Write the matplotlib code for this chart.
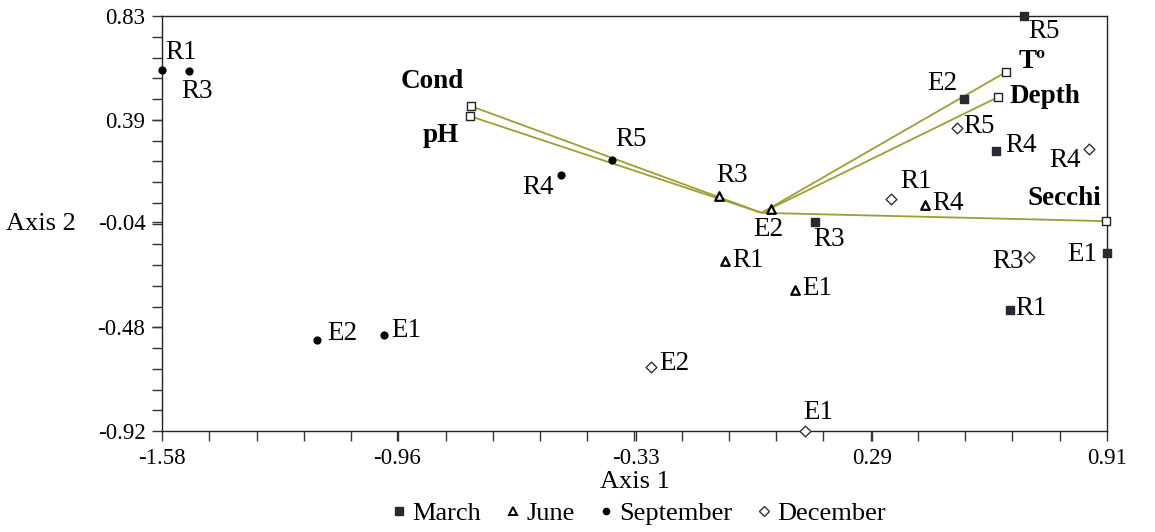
import matplotlib
matplotlib.use("Agg")
import matplotlib.pyplot as plt
from matplotlib.lines import Line2D
from matplotlib.ticker import FixedLocator

plt.rcParams['font.family'] = ['Liberation Serif', 'DejaVu Serif']

# ---- data ----
march_labels = ["R5", "E2", "R4", "R3", "E1", "R1"]
march_x = [0.691, 0.533, 0.618, 0.141, 0.910, 0.654]
march_y = [0.830, 0.480, 0.261, -0.039, -0.169, -0.410]

june_labels = ["R3", "E2", "R1", "E1", "R4"]
june_x = [-0.112, 0.025, -0.097, 0.088, 0.430]
june_y = [0.071, 0.016, -0.203, -0.325, 0.033]

sept_labels = ["R1", "R3", "R4", "R5", "E2", "E1"]
sept_x = [-1.580, -1.509, -0.529, -0.394, -1.172, -0.995]
sept_y = [0.602, 0.598, 0.160, 0.223, -0.536, -0.515]

dec_labels = ["R5", "R4", "R1", "R3", "E2", "E1"]
dec_x = [0.515, 0.862, 0.341, 0.704, -0.292, 0.114]
dec_y = [0.358, 0.269, 0.058, -0.186, -0.650, -0.920]

vec_labels = ["Cond", "pH", "Tº", "Depth", "Secchi"]
vec_x = [-0.766, -0.769, 0.644, 0.623, 0.907]
vec_y = [0.450, 0.408, 0.594, 0.488, -0.035]

x_ticks = [-1.58, -0.96, -0.33, 0.29, 0.91]
y_ticks = [0.83, 0.39, -0.04, -0.48, -0.92]

# ---- label layout (pixel offsets, ha, va) ----
march_off = [(4, -3, 'left', 'top'), (-6, 3, 'right', 'bottom'), (9, 5, 'left', 'center'),
             (-2, -5, 'left', 'top'), (-10, -2, 'right', 'center'), (5, 2, 'left', 'center')]
june_off = [(13, 21, 'center', 'center'), (-3, -20, 'center', 'center'), (7, 0, 'left', 'center'),
            (7, 1, 'left', 'center'), (7, 2, 'left', 'center')]
sept_off = [(3, 18, 'left', 'center'), (8, -20, 'center', 'center'), (-7, -13, 'right', 'center'),
            (3, 20, 'left', 'center'), (10, 6, 'left', 'center'), (7, 4, 'left', 'center')]
dec_off = [(6, 1, 'left', 'center'), (-8, -11, 'right', 'center'), (9, 18, 'left', 'center'),
           (-5, -5, 'right', 'center'), (8, 3, 'left', 'center'), (13, 19, 'center', 'center')]
vec_off = [(-39, 25, 'center', 'center'), (-29, -19, 'center', 'center'), (13, 10, 'left', 'center'),
           (11, 1, 'left', 'center'), (-42, 23, 'center', 'center')]

fig = plt.figure(figsize=(11.55, 5.32), dpi=100)
ax = fig.add_axes([0.1403, 0.1898, 0.8181, 0.7801])
ax.set_xlim(-1.58, 0.91)
ax.set_ylim(-0.92, 0.83)

line_col = '#9e9e32'
for vx, vy in zip(vec_x, vec_y):
    ax.plot([0, vx], [0, vy], color=line_col, lw=1.3, zorder=2, solid_capstyle='butt')
ax.scatter(vec_x, vec_y, marker='s', s=40, facecolor='white', edgecolor='#222222',
           linewidths=1.0, zorder=4, clip_on=False)

dark = '#262b33'
ax.scatter(march_x, march_y, marker='s', s=30, color=dark, zorder=3, clip_on=False)
ax.scatter(june_x, june_y, marker='^', s=38, facecolor='white', edgecolor='black',
           linewidths=1.6, zorder=3, clip_on=False)
ax.scatter(sept_x, sept_y, marker='o', s=24, color='black', zorder=3, clip_on=False)
ax.scatter(dec_x, dec_y, marker='D', s=30, facecolor='white', edgecolor='#333333',
           linewidths=1.0, zorder=3, clip_on=False)

fs = 19.5
def put(labels, xs, ys, offs, bold=False, size=fs):
    for lab, x, y, (dx, dy, ha, va) in zip(labels, xs, ys, offs):
        ax.annotate(lab, (x, y), xytext=(dx, dy), textcoords='offset pixels',
                    ha=ha, va=va, fontsize=size, fontweight='bold' if bold else 'normal',
                    zorder=5, annotation_clip=False)

put(march_labels, march_x, march_y, march_off)
put(june_labels, june_x, june_y, june_off)
put(sept_labels, sept_x, sept_y, sept_off)
put(dec_labels, dec_x, dec_y, dec_off)
put(vec_labels, vec_x, vec_y, vec_off, bold=True, size=19.5)

ax.xaxis.set_major_locator(FixedLocator(x_ticks))
ax.yaxis.set_major_locator(FixedLocator(y_ticks))
ax.xaxis.set_minor_locator(FixedLocator([-1.58 + i * 0.1245 for i in range(21)]))
ax.yaxis.set_minor_locator(FixedLocator([-0.92 + i * 0.0875 for i in range(21)]))
ax.set_xticklabels([f"{t:.2f}" for t in x_ticks])
ax.set_yticklabels([f"{t:.2f}" for t in y_ticks])
ax.tick_params(which='both', direction='out', length=7, width=1.0, labelsize=16.5, color='#333333')
ax.tick_params(axis='x', pad=5)
ax.tick_params(axis='y', pad=5)
for s in ax.spines.values():
    s.set_linewidth(1.0)
    s.set_color('#222222')

ax.set_xlabel("Axis 1", fontsize=19, labelpad=2)
ax.text(-0.128, 0.5, "Axis 2", transform=ax.transAxes, fontsize=19, ha='center', va='center')

handles = [
    Line2D([], [], ls='none', marker='s', ms=6, color=dark),
    Line2D([], [], ls='none', marker='^', ms=6, markerfacecolor='white', markeredgecolor='black', mew=1.4),
    Line2D([], [], ls='none', marker='o', ms=4.5, color='black'),
    Line2D([], [], ls='none', marker='D', ms=5, markerfacecolor='white', markeredgecolor='#333333'),
]
fig.legend(handles, ["March", "June", "September", "December"], loc='center',
           bbox_to_anchor=(0.553, 0.035), ncol=4, frameon=False, fontsize=19,
           handlelength=0.6, handletextpad=0.2, columnspacing=0.9, borderpad=0)

fig.savefig("out.png", dpi=100)
